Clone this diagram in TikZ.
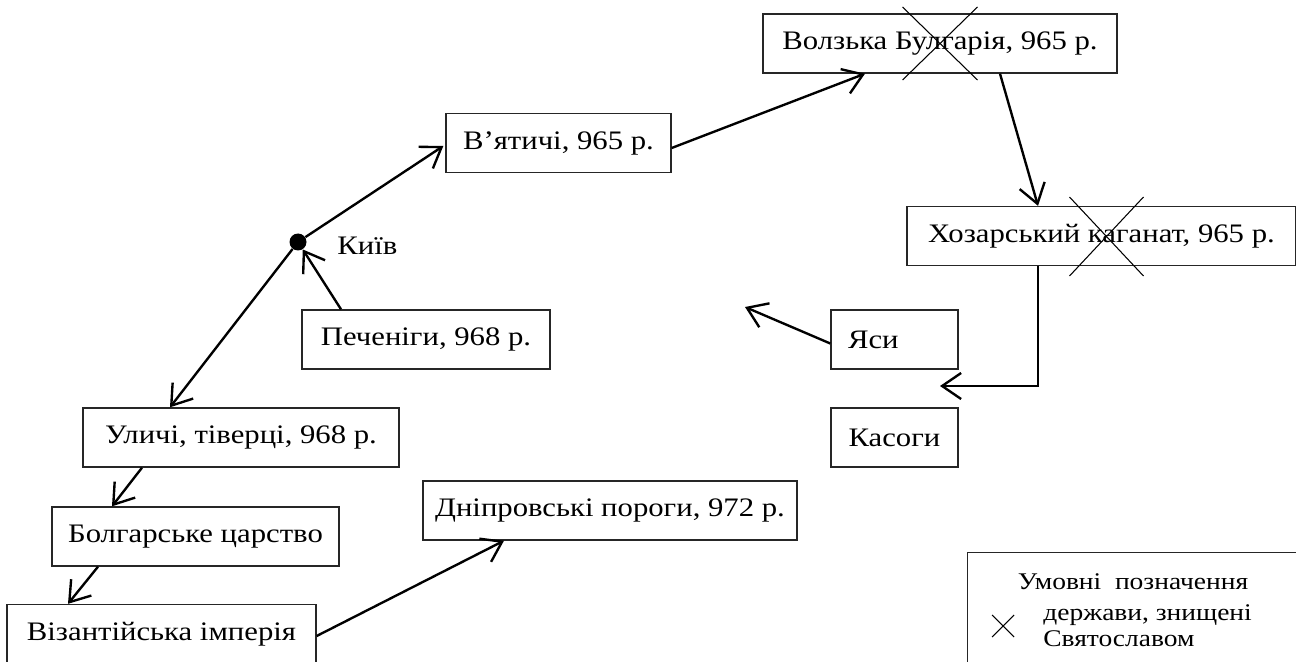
\documentclass[tikz,border=0pt]{standalone}
\usepackage{fontspec}
\setmainfont{Liberation Serif}[FakeStretch=1.15]
\usetikzlibrary{calc,positioning,arrows.meta}

\begin{document}
\begin{tikzpicture}[x=0.02cm, y=-0.02cm]
\tikzstyle{box}=[draw=black!85, line width=0.8pt, inner xsep=0.2cm, inner ysep=0pt, minimum height=1.18cm, font=\fontsize{15.2pt}{18pt}\selectfont]
\tikzstyle{arr}=[line width=1.35pt, -{Straight Barb[length=3.8mm, width=5.2mm, line width=1.35pt]}]
\tikzstyle{krest}=[line width=0.6pt]
\tikzstyle{lgd}=[font=\fontsize{13.6pt}{15pt}\selectfont, inner sep=0pt, align=left]

\useasboundingbox (0,0) rectangle (1296,662);

\node[box, minimum width=7.08cm] (volga) at (940,43.5) {Волзька Булгарія, 965 р.};
\node[box, minimum width=4.50cm] (vyat) at (558.5,143) {В’ятичі, 965 р.};
\node[box, minimum width=7.78cm] (khaz) at (1101.5,236) {Хозарський каганат, 965 р.};
\node[box, minimum width=4.96cm] (pech) at (426,339.5) {Печеніги, 968 р.};
\node[box, minimum width=6.32cm] (ulych) at (241,437.5) {Уличі, тіверці, 968 р.};
\node[box, minimum width=5.74cm] (bolg) at (195.5,536.5) {Болгарське царство};
\node[box, minimum width=6.18cm] (viz) at (161.5,634) {Візантійська імперія};
\node[box, minimum width=7.48cm] (dnip) at (610,510.5) {Дніпровські пороги, 972 р.};
\node[box, inner xsep=0.34cm, text width=1.86cm, align=left] (yasy) at (894.5,339.5) {Яси};
\node[box, minimum width=2.54cm] (kasog) at (894.5,437.5) {Касоги};

\node[circle, fill=black, inner sep=0pt, minimum size=0.34cm] (kyiv) at (298,242) {};
\node[anchor=west, inner sep=0pt, font=\fontsize{15.2pt}{18pt}\selectfont] (kyivlbl) at (337,246) {Київ};

\coordinate (kturn) at (1038,386);
\coordinate (kend) at (940,386);
\coordinate (yend) at (745,307);

% crossed out
\draw[krest] ($(volga)+(-37.5,-36.5)$) -- ($(volga)+(37.5,36.5)$);
\draw[krest] ($(volga)+(37.5,-36.5)$) -- ($(volga)+(-37.5,36.5)$);
\draw[krest] ($(khaz)+(-32,-39)$) -- ($(khaz)+(42,40)$);
\draw[krest] ($(khaz)+(42,-39)$) -- ($(khaz)+(-32,40)$);

\draw[arr] (kyiv) -- ($(vyat.west)+(-2,3)$);
\draw[arr] (kyiv) -- ($(ulych.north)+(-71,0)$);
\draw[arr] ($(pech.north)+(-85,0)$) -- (kyiv);
\draw[arr] ($(vyat.east)+(0,5)$) -- ($(volga.south)+(-75,0)$);
\draw[arr] ($(volga.south)+(60,0)$) -- ($(khaz.north)+(-63.5,0)$);
\draw[arr] ($(khaz.south)+(-63.5,0)$) -- (kturn) -- (kend);
\draw[arr] ($(yasy.west)+(0,4)$) -- (yend);
\draw[arr] ($(ulych.south)+(-99,0)$) -- ($(bolg.north)+(-83.5,0)$);
\draw[arr] ($(bolg.south)+(-97.5,0)$) -- ($(viz.north)+(-93.5,0)$);
\draw[arr] ($(viz.east)+(0,2)$) -- ($(dnip.south)+(-106,0)$);

% legend
\node[draw=black!85, line width=0.8pt, anchor=north west, minimum width=6.62cm, minimum height=2.24cm, inner sep=0pt] (legend) at (967,552) {};
\node[lgd] (lgdtitle) at (1133,582) {Умовні\ \ позначення};
\node[lgd, anchor=west] (lgdtext) at (1043,626) {держави, знищені\\Святославом};
\draw[krest] (992,615) -- (1014,637) (1014,615) -- (992,637);
\end{tikzpicture}
\end{document}
